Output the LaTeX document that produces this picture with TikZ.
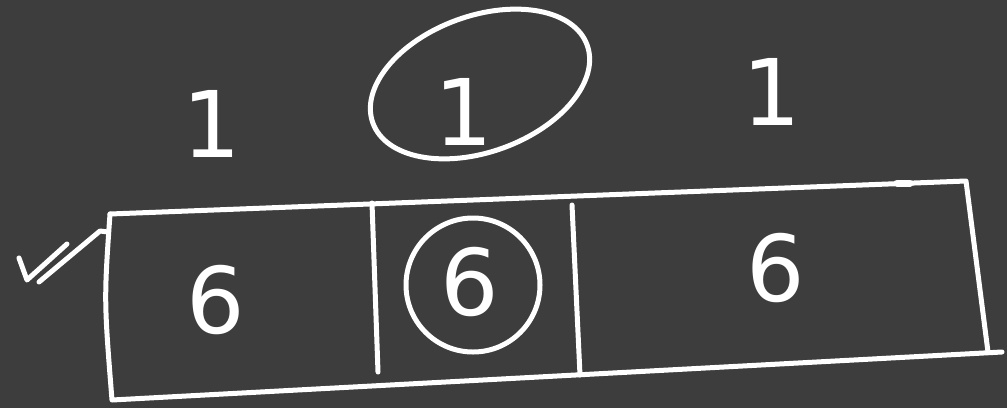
\documentclass[tikz,border=0pt]{standalone}
\usepackage{fontspec}
\setmainfont{DejaVu Sans}
\definecolor{bg}{HTML}{3D3D3D}
\begin{document}
\begin{tikzpicture}[x=1pt,y=-1pt,
  chalk/.style={draw=white,line width=5pt,line cap=round,line join=round},
  digit/.style={text=white,font=\fontsize{92}{92}\selectfont,inner sep=0pt}]
\fill[bg] (0,0) rectangle (1007,408);
\useasboundingbox (0,0) rectangle (1007,408);
% box corners
\coordinate (tl) at (110,214);
\coordinate (tr) at (966,181);
\coordinate (br) at (988,352);
\coordinate (bl) at (112,400);
\coordinate (bend) at (1002,352);
\draw[chalk] (tl) -- (tr) -- (br);
\draw[chalk] (tl) .. controls (104,300) .. (bl) -- (bend);
\draw[chalk,line width=7pt] (897,183) -- (910,183);
% dividers
\coordinate (d1t) at (372,203);
\coordinate (d1b) at (378,372);
\coordinate (d2t) at (572,205);
\coordinate (d2b) at (580,375);
\draw[chalk] (d1t) -- (d1b);
\draw[chalk] (d2t) -- (d2b);
% left scribble
\coordinate (s2) at (27,280);
\coordinate (s3) at (67,244);
\coordinate (s4) at (39,282);
\coordinate (s5) at (100,231);
\draw[chalk] (19,258) -- (s2) -- (s3);
\draw[chalk] (s4) -- (s5) -- (108,232);
% top numbers
\node[digit] (n1) at (212,124) {1};
\node[digit] (n2) at (464,112) {1};
\node[digit] (n3) at (772,92) {1};
\draw[chalk,rotate around={20:(480,84)}] (480,84) ellipse (114 and 68);
% bottom numbers
\node[digit] (m1) at (216,300) {6};
\node[digit] (m2) at (470,282) {6};
\node[digit] (m3) at (776,268) {6};
\draw[chalk] (473,285) circle (67);
\end{tikzpicture}
\end{document}
